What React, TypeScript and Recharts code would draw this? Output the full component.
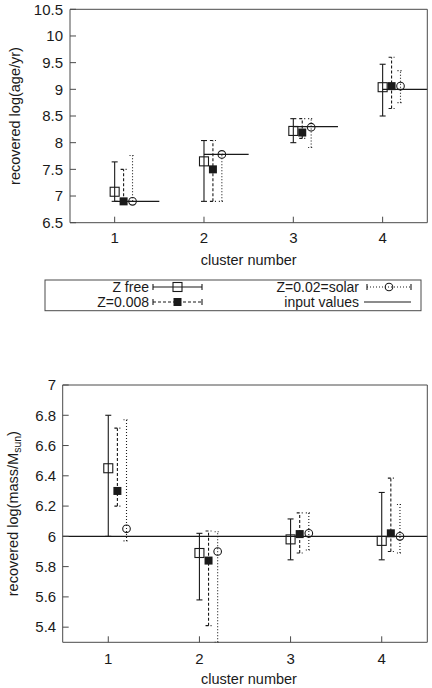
import React from 'react';
import { ComposedChart, Scatter, ErrorBar, XAxis, YAxis, ReferenceLine } from 'recharts';

const clusters = [1, 2, 3, 4];

// recovered log(age/yr), with lower / upper limits
const ageFree = [7.08, 7.65, 8.22, 9.04];
const ageFreeLo = [6.9, 6.9, 8.0, 8.5];
const ageFreeHi = [7.64, 8.04, 8.45, 9.47];
const ageZ008 = [6.9, 7.5, 8.19, 9.06];
const ageZ008Lo = [6.9, 6.9, 8.08, 8.64];
const ageZ008Hi = [7.5, 8.04, 8.45, 9.6];
const ageSolar = [6.9, 7.78, 8.29, 9.06];
const ageSolarLo = [6.9, 6.9, 7.91, 8.75];
const ageSolarHi = [7.76, 7.78, 8.45, 9.35];
const ageInput = [6.9, 7.78, 8.3, 9.0];

// recovered log(mass/Msun)
const massFree = [6.45, 5.89, 5.98, 5.97];
const massFreeLo = [6.0, 5.58, 5.845, 5.845];
const massFreeHi = [6.8, 6.02, 6.115, 6.29];
const massZ008 = [6.3, 5.84, 6.015, 6.02];
const massZ008Lo = [6.2, 5.41, 5.89, 5.9];
const massZ008Hi = [6.715, 6.035, 6.155, 6.385];
const massSolar = [6.05, 5.9, 6.02, 6.0];
const massSolarLo = [5.97, 5.3, 5.91, 5.89];
const massSolarHi = [6.77, 6.03, 6.155, 6.21];
const massInput = 6.0;

const ageTicks = [6.5, 7, 7.5, 8, 8.5, 9, 9.5, 10, 10.5];
const massTicks = [5.4, 5.6, 5.8, 6, 6.2, 6.4, 6.6, 6.8, 7];

// each metallicity run is nudged right of its cluster so the bars don't overlap
const shift = { free: 0, z008: 0.1, solar: 0.2 };
const inputSpan = 0.5;

const INK = '#1a1a1a';
const FRAME = '#4a4a4a';
const FONT = '"Liberation Sans", Arial, Helvetica, sans-serif';

const points = (vals: number[], lo: number[], hi: number[], dx: number) =>
  clusters.map((c, i) => ({ x: c + dx, y: vals[i], err: [vals[i] - lo[i], hi[i] - vals[i]] }));

const OpenSquare = (p: any) => (
  <rect x={p.cx - 4.5} y={p.cy - 4.5} width={9} height={9} fill="none" stroke={INK} strokeWidth={1.1} />
);
const FilledSquare = (p: any) => <rect x={p.cx - 4} y={p.cy - 4} width={8} height={8} fill={INK} />;
const OpenCircle = (p: any) => <circle cx={p.cx} cy={p.cy} r={3.8} fill="none" stroke={INK} strokeWidth={1.1} />;

const DASHED = '3 2';
const DOTTED = '1 2';

const XTitle = ({ viewBox, dx = 0 }: any) => (
  <text
    x={viewBox.x + viewBox.width / 2 + dx}
    y={viewBox.y + 37}
    textAnchor="middle"
    dominantBaseline="central"
    fontSize={14.5}
    fill={INK}
  >
    cluster number
  </text>
);

const YTitle = ({ viewBox, children, cx }: any) => {
  const x = viewBox.x + cx;
  const y = viewBox.y + viewBox.height / 2;
  return (
    <text
      x={x}
      y={y}
      transform={`rotate(-90 ${x} ${y})`}
      textAnchor="middle"
      dominantBaseline="central"
      fontSize={14.5}
      fill={INK}
    >
      {children}
    </text>
  );
};

const axisLine = { stroke: FRAME, strokeWidth: 1 };
const tickLine = { stroke: FRAME, strokeWidth: 1 };
const tickText = { fill: INK, fontSize: 15, fontFamily: FONT };

function Series({ data, shape, dash }: any) {
  return (
    <Scatter data={data} shape={shape} isAnimationActive={false}>
      <ErrorBar dataKey="err" direction="y" width={3} stroke={INK} strokeWidth={1.1} strokeDasharray={dash} />
    </Scatter>
  );
}

function AgePanel() {
  return (
    <ComposedChart width={432} height={270} margin={{ top: 8.3, right: 3.7, left: 0, bottom: 0 }}>
      <XAxis
        type="number"
        dataKey="x"
        domain={[0.5, 4.5]}
        ticks={clusters}
        interval={0}
        allowDataOverflow
        height={47.3}
        tickSize={-6}
        tickMargin={16}
        tick={tickText}
        axisLine={axisLine}
        tickLine={tickLine}
        label={(p: any) => <XTitle {...p} />}
      />
      <XAxis
        xAxisId="top"
        orientation="top"
        type="number"
        domain={[0.5, 4.5]}
        ticks={clusters}
        interval={0}
        allowDataOverflow
        height={1}
        tickSize={-6}
        tick={false}
        axisLine={axisLine}
        tickLine={tickLine}
      />
      <YAxis
        type="number"
        dataKey="y"
        domain={[6.5, 10.5]}
        ticks={ageTicks}
        interval={0}
        allowDataOverflow
        width={70}
        tickSize={-6}
        tickMargin={13}
        tick={tickText}
        axisLine={axisLine}
        tickLine={tickLine}
        label={(p: any) => (
          <YTitle {...p} cx={15}>
            recovered log(age/yr)
          </YTitle>
        )}
      />
      <YAxis
        yAxisId="right"
        orientation="right"
        type="number"
        domain={[6.5, 10.5]}
        ticks={ageTicks}
        interval={0}
        allowDataOverflow
        width={1}
        tickSize={-6}
        tick={false}
        axisLine={axisLine}
        tickLine={tickLine}
      />
      {clusters.map((c, i) => (
        <ReferenceLine
          key={c}
          segment={[
            { x: c, y: ageInput[i] },
            { x: c + inputSpan, y: ageInput[i] },
          ]}
          stroke={INK}
          strokeWidth={1.2}
          ifOverflow="visible"
        />
      ))}
      {Series({ data: points(ageFree, ageFreeLo, ageFreeHi, shift.free), shape: OpenSquare })}
      {Series({ data: points(ageZ008, ageZ008Lo, ageZ008Hi, shift.z008), shape: FilledSquare, dash: DASHED })}
      {Series({ data: points(ageSolar, ageSolarLo, ageSolarHi, shift.solar), shape: OpenCircle, dash: DOTTED })}
    </ComposedChart>
  );
}

function MassPanel() {
  return (
    <ComposedChart width={432} height={358} margin={{ top: 54, right: 3.7, left: 0, bottom: 0 }}>
      <XAxis
        type="number"
        dataKey="x"
        domain={[0.5, 4.5]}
        ticks={clusters}
        interval={0}
        allowDataOverflow
        height={45.7}
        tickSize={-6}
        tickMargin={17}
        tick={tickText}
        axisLine={axisLine}
        tickLine={tickLine}
        label={(p: any) => <XTitle {...p} dx={4} />}
      />
      <XAxis
        xAxisId="top"
        orientation="top"
        type="number"
        domain={[0.5, 4.5]}
        ticks={clusters}
        interval={0}
        allowDataOverflow
        height={1}
        tickSize={-6}
        tick={false}
        axisLine={axisLine}
        tickLine={tickLine}
      />
      <YAxis
        type="number"
        dataKey="y"
        domain={[5.3, 7]}
        ticks={massTicks}
        interval={0}
        allowDataOverflow
        width={62.7}
        tickSize={-6}
        tickMargin={12.5}
        tick={tickText}
        axisLine={axisLine}
        tickLine={tickLine}
        label={(p: any) => (
          <YTitle {...p} cx={13}>
            recovered log(mass/M
            <tspan dy={4} fontSize={10.5}>
              sun
            </tspan>
            <tspan dy={-4}>)</tspan>
          </YTitle>
        )}
      />
      <YAxis
        yAxisId="right"
        orientation="right"
        type="number"
        domain={[5.3, 7]}
        ticks={massTicks}
        interval={0}
        allowDataOverflow
        width={1}
        tickSize={-6}
        tick={false}
        axisLine={axisLine}
        tickLine={tickLine}
      />
      <ReferenceLine y={massInput} stroke={INK} strokeWidth={1.2} />
      {Series({ data: points(massFree, massFreeLo, massFreeHi, shift.free), shape: OpenSquare })}
      {Series({ data: points(massZ008, massZ008Lo, massZ008Hi, shift.z008), shape: FilledSquare, dash: DASHED })}
      {Series({ data: points(massSolar, massSolarLo, massSolarHi, shift.solar), shape: OpenCircle, dash: DOTTED })}
    </ComposedChart>
  );
}

// legend sample: a short error-bar-like line with end caps and the marker in the middle
function Sample({ x1, x2, y, dash, caps, marker }: any) {
  const mid = (x1 + x2) / 2;
  return (
    <g>
      <line x1={x1} y1={y} x2={x2} y2={y} stroke={INK} strokeWidth={1.1} strokeDasharray={dash} />
      {caps && (
        <>
          <line x1={x1} y1={y - 3} x2={x1} y2={y + 3} stroke={INK} strokeWidth={1.1} />
          <line x1={x2} y1={y - 3} x2={x2} y2={y + 3} stroke={INK} strokeWidth={1.1} />
        </>
      )}
      {marker && marker({ cx: mid, cy: y })}
    </g>
  );
}

function Legend() {
  const rows = [17, 32];
  return (
    <svg width={432} height={50} style={{ position: 'absolute', left: 0, top: 270 }}>
      <rect x={45} y={10} width={376} height={30.7} fill="#fff" stroke={FRAME} strokeWidth={1} />
      <g fontSize={14} fill={INK} textAnchor="end" dominantBaseline="central">
        <text x={149} y={rows[0]}>Z free</text>
        <text x={149} y={rows[1]}>Z=0.008</text>
        <text x={359} y={rows[0]}>Z=0.02=solar</text>
        <text x={359} y={rows[1]}>input values</text>
      </g>
      <Sample x1={153} x2={202} y={rows[0]} caps marker={OpenSquare} />
      <Sample x1={153} x2={202} y={rows[1]} caps dash={DASHED} marker={FilledSquare} />
      <Sample x1={367} x2={411} y={rows[0]} caps dash={DOTTED} marker={OpenCircle} />
      <Sample x1={364} x2={411} y={rows[1]} />
    </svg>
  );
}

export default function App() {
  return (
    <div
      style={{
        position: 'absolute',
        left: 0,
        top: 0,
        width: 432,
        height: 688,
        background: '#fff',
        fontFamily: FONT,
      }}
    >
      <div style={{ position: 'absolute', left: 0, top: 0 }}>
        <AgePanel />
      </div>
      <Legend />
      <div style={{ position: 'absolute', left: 0, top: 330 }}>
        <MassPanel />
      </div>
    </div>
  );
}
